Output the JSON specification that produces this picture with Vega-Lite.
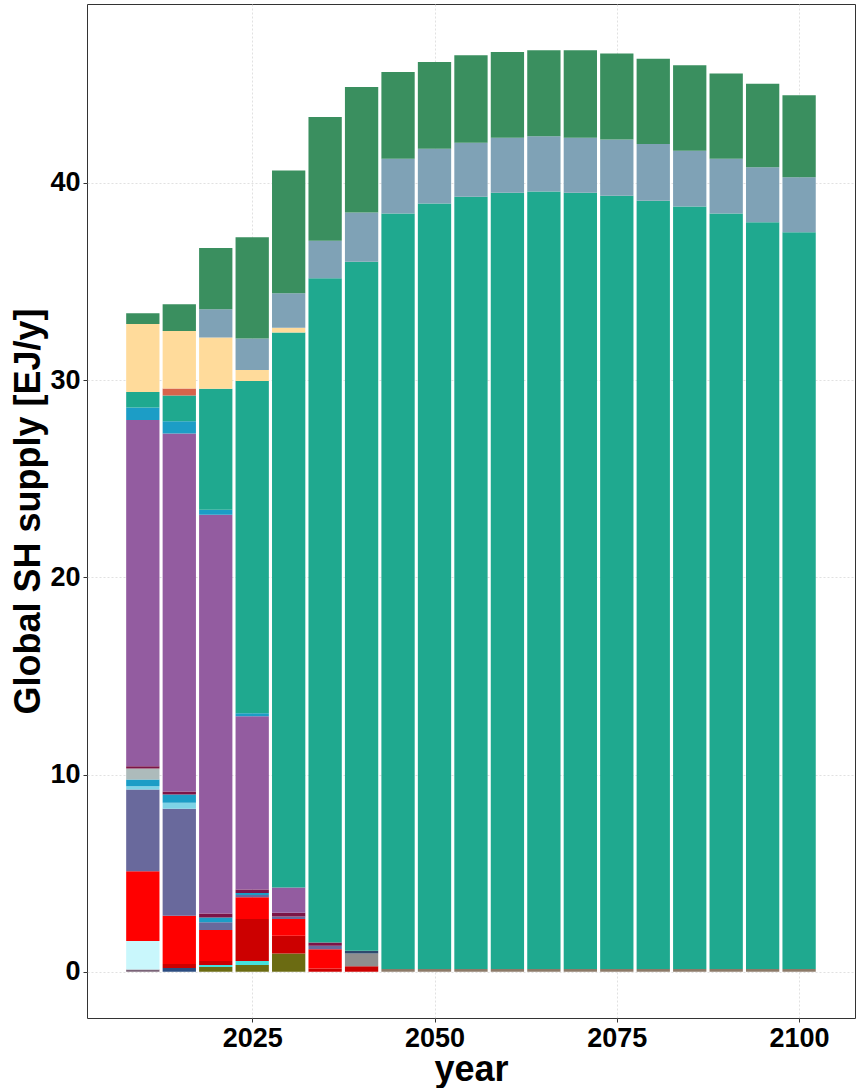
{
  "$schema": "https://vega.github.io/schema/vega-lite/v6.json",
  "width": 768,
  "height": 1014,
  "autosize": {"type": "none"},
  "padding": {"left": 87, "top": 4, "right": 1, "bottom": 70},
  "background": "white",
  "data": {"values": [
    {"year": 2010, "source": "s01", "value": 0.12},
    {"year": 2010, "source": "s06", "value": 1.45},
    {"year": 2010, "source": "s08", "value": 3.53},
    {"year": 2010, "source": "s09", "value": 4.14},
    {"year": 2010, "source": "s12", "value": 0.17},
    {"year": 2010, "source": "s13", "value": 0.34},
    {"year": 2010, "source": "s14", "value": 0.56},
    {"year": 2010, "source": "s15", "value": 0.12},
    {"year": 2010, "source": "s16", "value": 17.55},
    {"year": 2010, "source": "s17", "value": 0.63},
    {"year": 2010, "source": "s18", "value": 0.79},
    {"year": 2010, "source": "s20", "value": 3.44},
    {"year": 2010, "source": "s22", "value": 0.55},

    {"year": 2015, "source": "s02", "value": 0.2},
    {"year": 2015, "source": "s07", "value": 0.2},
    {"year": 2015, "source": "s08", "value": 2.45},
    {"year": 2015, "source": "s09", "value": 5.42},
    {"year": 2015, "source": "s12", "value": 0.3},
    {"year": 2015, "source": "s13", "value": 0.42},
    {"year": 2015, "source": "s15", "value": 0.15},
    {"year": 2015, "source": "s16", "value": 18.15},
    {"year": 2015, "source": "s17", "value": 0.63},
    {"year": 2015, "source": "s18", "value": 1.3},
    {"year": 2015, "source": "s19", "value": 0.35},
    {"year": 2015, "source": "s20", "value": 2.92},
    {"year": 2015, "source": "s22", "value": 1.36},

    {"year": 2020, "source": "s03", "value": 0.25},
    {"year": 2020, "source": "s05", "value": 0.1},
    {"year": 2020, "source": "s07", "value": 0.2},
    {"year": 2020, "source": "s08", "value": 1.57},
    {"year": 2020, "source": "s09", "value": 0.39},
    {"year": 2020, "source": "s13", "value": 0.25},
    {"year": 2020, "source": "s15", "value": 0.2},
    {"year": 2020, "source": "s16", "value": 20.22},
    {"year": 2020, "source": "s17", "value": 0.25},
    {"year": 2020, "source": "s18", "value": 6.13},
    {"year": 2020, "source": "s20", "value": 2.6},
    {"year": 2020, "source": "s21", "value": 1.43},
    {"year": 2020, "source": "s22", "value": 3.11},

    {"year": 2025, "source": "s03", "value": 0.35},
    {"year": 2025, "source": "s05", "value": 0.2},
    {"year": 2025, "source": "s07", "value": 2.13},
    {"year": 2025, "source": "s08", "value": 1.1},
    {"year": 2025, "source": "s09", "value": 0.12},
    {"year": 2025, "source": "s13", "value": 0.1},
    {"year": 2025, "source": "s15", "value": 0.17},
    {"year": 2025, "source": "s16", "value": 8.79},
    {"year": 2025, "source": "s17", "value": 0.15},
    {"year": 2025, "source": "s18", "value": 16.84},
    {"year": 2025, "source": "s20", "value": 0.56},
    {"year": 2025, "source": "s21", "value": 1.6},
    {"year": 2025, "source": "s22", "value": 5.14},

    {"year": 2030, "source": "s03", "value": 0.93},
    {"year": 2030, "source": "s07", "value": 0.9},
    {"year": 2030, "source": "s08", "value": 0.85},
    {"year": 2030, "source": "s09", "value": 0.12},
    {"year": 2030, "source": "s15", "value": 0.2},
    {"year": 2030, "source": "s16", "value": 1.28},
    {"year": 2030, "source": "s18", "value": 28.13},
    {"year": 2030, "source": "s20", "value": 0.25},
    {"year": 2030, "source": "s21", "value": 1.75},
    {"year": 2030, "source": "s22", "value": 6.22},

    {"year": 2035, "source": "s07", "value": 0.17},
    {"year": 2035, "source": "s08", "value": 0.98},
    {"year": 2035, "source": "s09", "value": 0.17},
    {"year": 2035, "source": "s15", "value": 0.17},
    {"year": 2035, "source": "s18", "value": 33.67},
    {"year": 2035, "source": "s21", "value": 1.91},
    {"year": 2035, "source": "s22", "value": 6.27},

    {"year": 2040, "source": "s07", "value": 0.28},
    {"year": 2040, "source": "s10", "value": 0.65},
    {"year": 2040, "source": "s11", "value": 0.14},
    {"year": 2040, "source": "s18", "value": 34.93},
    {"year": 2040, "source": "s21", "value": 2.5},
    {"year": 2040, "source": "s22", "value": 6.36},

    {"year": 2045, "source": "s04", "value": 0.15},
    {"year": 2045, "source": "s18", "value": 38.3},
    {"year": 2045, "source": "s21", "value": 2.77},
    {"year": 2045, "source": "s22", "value": 4.4},
    {"year": 2050, "source": "s04", "value": 0.15},
    {"year": 2050, "source": "s18", "value": 38.8},
    {"year": 2050, "source": "s21", "value": 2.78},
    {"year": 2050, "source": "s22", "value": 4.4},
    {"year": 2055, "source": "s04", "value": 0.15},
    {"year": 2055, "source": "s18", "value": 39.15},
    {"year": 2055, "source": "s21", "value": 2.73},
    {"year": 2055, "source": "s22", "value": 4.44},
    {"year": 2060, "source": "s04", "value": 0.15},
    {"year": 2060, "source": "s18", "value": 39.35},
    {"year": 2060, "source": "s21", "value": 2.79},
    {"year": 2060, "source": "s22", "value": 4.35},
    {"year": 2065, "source": "s04", "value": 0.15},
    {"year": 2065, "source": "s18", "value": 39.41},
    {"year": 2065, "source": "s21", "value": 2.8},
    {"year": 2065, "source": "s22", "value": 4.37},
    {"year": 2070, "source": "s04", "value": 0.15},
    {"year": 2070, "source": "s18", "value": 39.35},
    {"year": 2070, "source": "s21", "value": 2.79},
    {"year": 2070, "source": "s22", "value": 4.44},
    {"year": 2075, "source": "s04", "value": 0.15},
    {"year": 2075, "source": "s18", "value": 39.2},
    {"year": 2075, "source": "s21", "value": 2.85},
    {"year": 2075, "source": "s22", "value": 4.36},
    {"year": 2080, "source": "s04", "value": 0.15},
    {"year": 2080, "source": "s18", "value": 38.95},
    {"year": 2080, "source": "s21", "value": 2.87},
    {"year": 2080, "source": "s22", "value": 4.33},
    {"year": 2085, "source": "s04", "value": 0.15},
    {"year": 2085, "source": "s18", "value": 38.65},
    {"year": 2085, "source": "s21", "value": 2.83},
    {"year": 2085, "source": "s22", "value": 4.34},
    {"year": 2090, "source": "s04", "value": 0.15},
    {"year": 2090, "source": "s18", "value": 38.3},
    {"year": 2090, "source": "s21", "value": 2.77},
    {"year": 2090, "source": "s22", "value": 4.32},
    {"year": 2095, "source": "s04", "value": 0.15},
    {"year": 2095, "source": "s18", "value": 37.85},
    {"year": 2095, "source": "s21", "value": 2.79},
    {"year": 2095, "source": "s22", "value": 4.24},
    {"year": 2100, "source": "s04", "value": 0.15},
    {"year": 2100, "source": "s18", "value": 37.35},
    {"year": 2100, "source": "s21", "value": 2.79},
    {"year": 2100, "source": "s22", "value": 4.15}
  ]},
  "mark": {"type": "bar", "size": 33.3},
  "encoding": {
    "x": {
      "field": "year",
      "type": "quantitative",
      "scale": {"domain": [2003.03, 2106.98], "nice": false, "zero": false},
      "axis": {"values": [2025, 2050, 2075, 2100], "format": "d", "title": "year"}
    },
    "y": {
      "field": "value",
      "type": "quantitative",
      "stack": "zero",
      "aggregate": "sum",
      "scale": {"domain": [-2.34, 49.07], "nice": false, "zero": false},
      "axis": {"values": [0, 10, 20, 30, 40], "title": "Global SH supply [EJ/y]"}
    },
    "color": {
      "field": "source",
      "type": "nominal",
      "legend": null,
      "scale": {
        "domain": ["s01","s02","s03","s04","s05","s06","s07","s08","s09","s10","s11","s12","s13","s14","s15","s16","s17","s18","s19","s20","s21","s22"],
        "range": ["#7B6478","#2B4C80","#6B6B12","#8C7A68","#45E0DC","#C9F7FC","#CC0000","#FF0000","#69699C","#8E8E8E","#2E4A6E","#7ED3E6","#1C9DC6","#ADBBBB","#7C1447","#935CA0","#1C9DC6","#1FA98F","#D7634B","#FFDB9B","#7FA2B6","#3A8F5F"]
      }
    },
    "order": {"field": "source", "sort": "ascending"}
  },
  "config": {
    "view": {"stroke": "#333333", "strokeWidth": 1},
    "axis": {
      "domain": false,
      "labelFont": "Liberation Sans",
      "labelFontWeight": "bold",
      "labelFontSize": 27,
      "labelColor": "#000000",
      "titleFont": "Liberation Sans",
      "titleFontWeight": "bold",
      "titleFontSize": 36,
      "titleColor": "#000000",
      "tickColor": "#333333",
      "tickSize": 4,
      "gridColor": "#D9D9D9",
      "gridDash": [2, 2],
      "gridWidth": 0.8
    },
    "axisX": {"labelPadding": 3, "titlePadding": 1},
    "axisY": {"labelPadding": 3, "titlePadding": 2}
  }
}
